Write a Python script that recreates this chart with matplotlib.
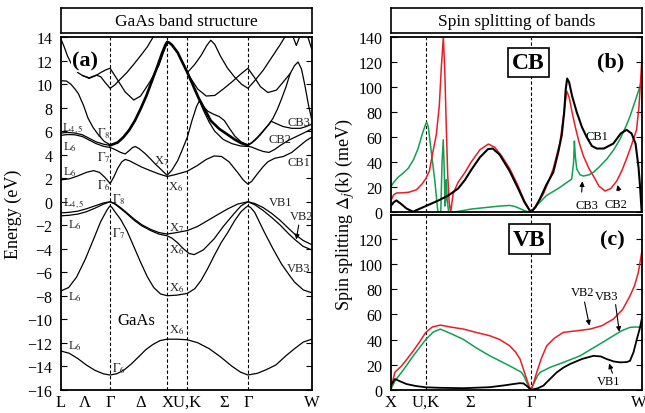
import matplotlib
matplotlib.use("Agg")
import matplotlib.pyplot as plt

plt.rcParams['font.family'] = ['Liberation Serif', 'DejaVu Serif']
plt.rcParams['mathtext.fontset'] = 'stix'

# high-symmetry points along the path (units of 2*pi/a)
path_pos = [0, 0.866, 1.866, 2.220, 3.281, 4.399]
path_lbl_pos = [0, 0.43, 0.866, 1.40, 2.12, 2.87, 3.281, 4.399]
path_lbl = ['L', 'Λ', 'Γ', 'Δ', 'XU,K', 'Σ', 'Γ', 'W']

# ---- band structure (k, E in eV) ----
band_s = [(0, -12.7), (0.15, -12.9), (0.3, -13.35), (0.45, -13.9), (0.6, -14.35), (0.75, -14.65),
          (0.866, -14.75), (0.99, -14.63), (1.116, -14.3), (1.24, -13.8), (1.366, -13.2), (1.49, -12.6),
          (1.616, -12.15), (1.74, -11.82), (1.866, -11.7), (2.04, -11.7), (2.22, -11.75), (2.4, -12.0),
          (2.6, -12.5), (2.8, -13.2), (3.0, -14.0), (3.15, -14.5), (3.281, -14.75), (3.45, -14.6),
          (3.6, -14.3), (3.77, -13.9), (3.95, -13.1), (4.1, -12.5), (4.25, -11.95), (4.399, -11.7)]
band_v3 = [(0, -7.6), (0.14, -7.3), (0.28, -6.4), (0.43, -4.9), (0.575, -3.2), (0.7, -1.7), (0.8, -0.8),
           (0.84, -0.5), (0.866, -0.35), (0.9, -0.5), (0.95, -0.85), (1.05, -1.5), (1.164, -2.5),
           (1.28, -3.8), (1.40, -5.15), (1.52, -6.4), (1.63, -7.3), (1.75, -7.85), (1.866, -8.0),
           (2.04, -7.95), (2.22, -7.8), (2.35, -7.4), (2.46, -6.7), (2.575, -5.7), (2.7, -4.5),
           (2.81, -3.5), (2.93, -2.6), (3.05, -1.6), (3.16, -0.85), (3.24, -0.5), (3.281, -0.35),
           (3.33, -0.5), (3.4, -0.9), (3.57, -2.6), (3.72, -4.0), (3.87, -5.3), (4.0, -6.2),
           (4.1, -6.85), (4.25, -7.5), (4.399, -7.75)]
band_v1 = [(0, -0.95), (0.15, -0.9), (0.3, -0.8), (0.45, -0.6), (0.6, -0.35), (0.75, -0.1), (0.866, 0),
           (0.95, -0.15), (1.05, -0.5), (1.15, -0.9), (1.28, -1.45), (1.42, -1.95), (1.575, -2.35),
           (1.72, -2.62), (1.866, -2.75), (2.0, -2.65), (2.22, -2.45), (2.4, -2.1), (2.575, -1.6),
           (2.75, -1.1), (2.93, -0.6), (3.1, -0.2), (3.281, 0), (3.4, -0.15), (3.55, -0.5),
           (3.7, -1.0), (3.85, -1.6), (4.0, -2.3), (4.1, -2.75), (4.25, -3.3), (4.399, -3.65)]
band_v2 = [(0, -1.2), (0.15, -1.15), (0.3, -1.05), (0.45, -0.85), (0.6, -0.55), (0.75, -0.2), (0.866, 0),
           (0.95, -0.2), (1.05, -0.58), (1.15, -0.98), (1.28, -1.55), (1.42, -2.05), (1.575, -2.45),
           (1.72, -2.75), (1.866, -2.9), (1.95, -3.1), (2.05, -3.5), (2.15, -4.0), (2.25, -4.4),
           (2.34, -4.5), (2.5, -4.1), (2.69, -3.15), (2.85, -2.1), (3.04, -1.0), (3.16, -0.35),
           (3.281, 0), (3.4, -0.25), (3.55, -0.75), (3.7, -1.35), (3.85, -2.0), (4.0, -2.75),
           (4.1, -3.2), (4.25, -3.8), (4.399, -4.1)]
band_c1 = [(0, 1.86), (0.15, 1.95), (0.3, 2.2), (0.45, 2.5), (0.575, 2.65), (0.68, 2.5), (0.78, 2.05),
           (0.866, 1.55), (0.93, 2.1), (1.0, 2.85), (1.07, 3.4), (1.13, 3.6), (1.2, 3.5), (1.3, 3.25),
           (1.42, 2.95), (1.57, 2.65), (1.72, 2.37), (1.866, 2.15), (2.0, 2.3), (2.22, 2.6), (2.4, 3.1),
           (2.55, 3.6), (2.69, 3.9), (2.82, 3.85), (2.95, 3.4), (3.1, 2.5), (3.2, 1.85), (3.281, 1.5),
           (3.35, 1.75), (3.45, 2.4), (3.55, 3.0), (3.63, 3.4), (3.75, 3.7), (3.9, 3.85), (4.05, 4.2),
           (4.2, 4.8), (4.3, 5.2), (4.399, 5.5)]
band_c2 = [(0.866, 4.62), (0.95, 4.45), (1.05, 4.2), (1.13, 4.07), (1.2, 4.35), (1.26, 4.62), (1.31, 4.7),
           (1.38, 4.5), (1.48, 4.1), (1.575, 3.64), (1.66, 3.2), (1.75, 2.79), (1.81, 2.5), (1.866, 2.25),
           (1.95, 2.7), (2.05, 3.5), (2.12, 4.3), (2.22, 5.5), (2.3, 6.9), (2.38, 8.1), (2.43, 8.6),
           (2.5, 8.1), (2.58, 7.7), (2.68, 7.45), (2.78, 7.25), (2.87, 6.9), (2.95, 6.3), (3.05, 5.6),
           (3.16, 5.1), (3.281, 4.8)]
band_c8 = [(0.866, 4.8), (1.0, 5.05), (1.1, 5.5), (1.2, 6.1), (1.3, 6.9), (1.4, 7.9), (1.5, 9.0),
           (1.6, 10.3), (1.7, 11.6), (1.78, 12.7), (1.84, 13.4), (1.866, 13.6), (1.9, 13.55),
           (1.95, 13.35), (2.05, 12.7), (2.13, 11.9), (2.22, 11.0), (2.32, 9.9), (2.42, 8.8),
           (2.52, 7.9), (2.63, 6.9), (2.78, 6.2), (2.93, 5.7), (3.05, 5.3), (3.16, 5.0), (3.281, 4.8)]
band_cc = [(2.42, 8.75), (2.5, 7.8), (2.6, 6.8), (2.7, 6.0), (2.85, 5.3), (3.0, 4.95), (3.15, 4.75),
           (3.281, 4.7)]
band_l10 = [(0, 10.3), (0.1, 10.28), (0.18, 10.0), (0.25, 9.6), (0.31, 9.2), (0.4, 8.2), (0.48, 7.1),
            (0.57, 6.3), (0.66, 5.7), (0.76, 5.15), (0.866, 4.85)]
band_la = [(0, 5.85), (0.12, 5.9), (0.25, 5.85), (0.38, 5.7), (0.5, 5.4), (0.62, 5.1), (0.75, 4.9),
           (0.866, 4.8)]
band_lb = [(0, 5.65), (0.12, 5.72), (0.25, 5.7), (0.38, 5.55), (0.5, 5.25), (0.62, 4.95), (0.75, 4.72),
           (0.866, 4.62)]
band_u1 = [(0, 13.9), (0.06, 13.2), (0.12, 12.4), (0.2, 11.6), (0.3, 11.0), (0.38, 10.75), (0.5, 10.5),
           (0.62, 10.75), (0.72, 11.05), (0.8, 11.25), (0.866, 11.36), (0.98, 10.5), (1.13, 9.35),
           (1.28, 8.66), (1.4, 9.0), (1.49, 9.66), (1.575, 10.3), (1.65, 11.0), (1.72, 11.6),
           (1.8, 12.7), (1.866, 13.5)]
band_u2 = [(0.38, 10.75), (0.5, 10.55), (0.62, 10.78), (0.7, 10.65), (0.78, 10.15), (0.866, 9.66),
           (0.95, 9.95), (1.047, 10.45), (1.16, 11.0), (1.28, 11.7), (1.4, 12.43), (1.52, 13.2),
           (1.63, 14.1)]
band_p = [(2.22, 11.0), (2.35, 11.7), (2.46, 12.45), (2.56, 13.3), (2.63, 13.75), (2.7, 13.4),
          (2.8, 12.4), (2.92, 11.4), (3.05, 10.6), (3.17, 10.0), (3.281, 9.66), (3.4, 10.3),
          (3.55, 11.2), (3.7, 12.3), (3.85, 13.4), (3.95, 14.2)]
band_q = [(2.22, 10.95), (2.4, 9.6), (2.55, 9.0), (2.7, 9.05), (2.85, 9.6), (3.0, 10.2), (3.15, 10.85),
          (3.281, 11.36), (3.4, 10.55), (3.5, 9.8), (3.63, 9.3), (3.78, 9.5), (3.9, 10.2), (4.02, 10.9),
          (4.1, 11.6), (4.16, 11.9), (4.22, 11.3), (4.28, 9.9), (4.34, 8.3), (4.399, 7.0)]
band_vtop = [(4.06, 14.2), (4.13, 13.3), (4.2, 14.2)]
band_wtop = [(4.32, 14.2), (4.36, 13.6), (4.399, 13.0)]
band_cb2 = [(3.281, 4.72), (3.35, 4.65), (3.45, 4.45), (3.55, 4.28), (3.65, 4.2), (3.75, 4.45),
            (3.85, 4.8), (4.0, 5.25), (4.15, 5.6), (4.3, 5.95), (4.399, 6.2)]
band_cb3 = [(3.281, 4.8), (3.35, 5.0), (3.42, 5.3), (3.5, 5.7), (3.6, 6.3), (3.69, 6.85), (3.78, 6.65),
            (3.9, 6.4), (4.05, 6.25), (4.2, 6.25), (4.3, 6.4), (4.399, 6.6)]
band_cb4 = [(3.281, 4.82), (3.35, 5.05), (3.45, 5.5), (3.55, 6.05), (3.65, 6.6), (3.72, 7.1), (3.8, 7.9),
            (3.87, 8.75), (3.95, 9.8), (4.02, 10.9)]

thin_bands = [band_s, band_v3, band_v1, band_v2, band_c1, band_c2, band_cc, band_l10, band_la,
              band_lb, band_u1, band_u2, band_p, band_q, band_vtop, band_wtop, band_cb2, band_cb3,
              band_cb4]

# ---- spin splitting (k along X-U,K-Gamma-W, meV) ----
split_pos = [0, 0.354, 1.414, 2.532]
split_lbl_pos = [0, 0.354, 0.80, 1.414, 2.50]
split_lbl = ['X', 'U,K', 'Σ', 'Γ', 'W']

cb1_split = [(0, 5), (0.03, 8), (0.057, 9.5), (0.1, 7), (0.16, 3), (0.225, 0.5), (0.354, 5), (0.477, 9.3),
             (0.578, 13.3), (0.68, 19), (0.75, 26), (0.813, 34), (0.9, 44), (0.982, 50.6), (1.03, 51),
             (1.1, 46), (1.2, 33), (1.28, 20), (1.35, 8), (1.414, 0), (1.46, 4), (1.507, 11), (1.57, 22),
             (1.64, 32), (1.69, 48), (1.726, 62), (1.75, 80), (1.765, 98), (1.78, 107), (1.8, 104),
             (1.83, 93), (1.877, 80), (1.93, 68), (1.978, 60), (2.03, 53), (2.08, 51), (2.15, 51),
             (2.246, 55), (2.32, 63), (2.38, 66), (2.43, 63), (2.47, 55), (2.5, 36), (2.516, 20),
             (2.532, 0)]
cb2_split = [(0, 9), (0.03, 14), (0.06, 15.5), (0.1, 15.5), (0.18, 16), (0.26, 18), (0.32, 23),
             (0.354, 27), (0.39, 33), (0.43, 50), (0.46, 62), (0.49, 85), (0.51, 115), (0.531, 140),
             (0.545, 115), (0.56, 70), (0.575, 30), (0.59, 8), (0.605, 0), (0.63, 15), (0.68, 24),
             (0.75, 32), (0.81, 40), (0.9, 50), (0.985, 54.6), (1.05, 52), (1.12, 45), (1.2, 35),
             (1.28, 22), (1.35, 9), (1.414, 0), (1.47, 6), (1.54, 14.6), (1.6, 26), (1.64, 35),
             (1.708, 56), (1.74, 75), (1.776, 97), (1.8, 92), (1.83, 80), (1.86, 69), (1.9, 56),
             (1.944, 45), (2.0, 35), (2.045, 29), (2.1, 21), (2.163, 17), (2.22, 19), (2.28, 25),
             (2.33, 33), (2.38, 43), (2.43, 54), (2.48, 66), (2.505, 85), (2.532, 120)]
cb3_split = [(0, 20), (0.03, 24), (0.074, 28), (0.12, 31), (0.175, 35), (0.23, 42), (0.276, 51),
             (0.32, 63), (0.35, 70), (0.363, 72), (0.38, 68), (0.41, 48), (0.444, 26), (0.47, 5),
             (0.477, 0), (0.505, 0), (0.518, 40), (0.53, 58), (0.538, 40), (0.548, 5), (0.555, 10),
             (0.561, 26), (0.57, 10), (0.585, 0), (0.62, 0), (0.7, 1), (0.813, 2.6), (0.982, 4),
             (1.1, 5), (1.2, 5.5), (1.26, 4.5), (1.33, 2), (1.38, 0.5), (1.414, 0), (1.47, 5.3),
             (1.57, 13.3), (1.708, 20), (1.826, 26.6), (1.845, 40), (1.853, 57), (1.862, 45),
             (1.877, 34.6), (1.91, 30), (1.944, 29), (2.0, 30), (2.045, 32), (2.1, 36), (2.18, 42.6),
             (2.25, 50), (2.314, 58.6), (2.38, 70), (2.415, 77), (2.47, 90), (2.532, 105)]

vb1_split = [(0, 3.2), (0.043, 8.5), (0.1, 6.5), (0.16, 4.5), (0.25, 3), (0.354, 1.9), (0.5, 1.5),
             (0.735, 1.2), (1.0, 2), (1.15, 3.5), (1.237, 4.5), (1.3, 5.2), (1.34, 5), (1.38, 2.5),
             (1.414, 0), (1.48, 1), (1.54, 3.2), (1.6, 8), (1.675, 13.8), (1.74, 17.5), (1.81, 20.5),
             (1.93, 24.5), (2.045, 27), (2.12, 26.5), (2.18, 24.4), (2.25, 22.5), (2.314, 21.8),
             (2.38, 22), (2.414, 23), (2.45, 30), (2.482, 40), (2.51, 48), (2.532, 56)]
vb2_split = [(0, 0.5), (0.043, 14), (0.11, 19), (0.17, 25), (0.228, 31), (0.29, 38), (0.354, 45.7),
             (0.42, 50), (0.5, 51.5), (0.6, 50), (0.735, 48.3), (0.87, 45.5), (1.0, 43), (1.1, 40),
             (1.2, 35), (1.26, 30), (1.305, 24.4), (1.34, 16), (1.372, 8.5), (1.395, 3), (1.414, 0),
             (1.44, 5), (1.473, 13.8), (1.52, 25), (1.574, 35), (1.65, 41), (1.742, 45.7), (1.88, 47),
             (2.01, 48.3), (2.13, 51), (2.246, 56.3), (2.34, 64), (2.414, 74.8), (2.46, 83),
             (2.498, 93.5), (2.532, 109.4)]
vb3_split = [(0, 0), (0.043, 7), (0.13, 16), (0.228, 27), (0.354, 40), (0.43, 46), (0.5, 48.3), (0.6, 45),
             (0.735, 40), (0.87, 33), (1.0, 27), (1.1, 23), (1.2, 19), (1.27, 16), (1.32, 13.8),
             (1.35, 10), (1.372, 5.9), (1.395, 2), (1.414, 0), (1.45, 6), (1.48, 11), (1.507, 13.8),
             (1.607, 17.8), (1.75, 22), (1.91, 27), (2.08, 35), (2.246, 43), (2.33, 47), (2.414, 49.7),
             (2.47, 50), (2.532, 49.7)]

RED = '#ec1c24'
GREEN = '#10a050'


def xy(pts):
    return [p[0] for p in pts], [p[1] for p in pts]


W, H = 645, 414
fig = plt.figure(figsize=(6.45, 4.14), dpi=100)
axL = fig.add_axes([60.7 / W, 1 - 390.7 / H, 251 / W, 352.4 / H])
axT = fig.add_axes([390.7 / W, 1 - 213.3 / H, 251 / W, 175 / H])
axB = fig.add_axes([390.7 / W, 1 - 390.7 / H, 251 / W, 175 / H])

for ax in (axL, axT, axB):
    for sp in ax.spines.values():
        sp.set_linewidth(1.3)
    ax.tick_params(axis='y', direction='in', left=True, right=True, length=4, width=0.8,
                   labelsize=11.5, pad=6)
    ax.tick_params(axis='x', length=0, labelsize=12, pad=3)

# left panel: band structure
for b in thin_bands:
    axL.plot(*xy(b), color='k', lw=0.9)
axL.plot(*xy(band_c8), color='k', lw=1.9)
for x in path_pos[1:-1]:
    axL.axvline(x, color='k', ls=(0, (3, 2)), lw=0.8)
axL.set_xlim(0, 4.399)
axL.set_ylim(-16, 14)
axL.set_yticks(range(-16, 15, 2))
axL.set_xticks(path_lbl_pos)
axL.set_xticklabels(path_lbl)
axL.set_ylabel('Energy (eV)', fontsize=13, labelpad=4)

lab = dict(fontsize=9, color='#222222')
lbls = [(0.03, 6.35, r'L$_{4,5}$'), (0.64, 5.9, r'$\Gamma_8$'), (0.04, 4.75, r'L$_6$'),
        (0.64, 3.85, r'$\Gamma_7$'), (1.63, 3.55, r'X$_7$'), (0.04, 2.6, r'L$_6$'),
        (0.64, 1.45, r'$\Gamma_6$'), (1.88, 1.35, r'X$_6$'), (0.9, 0.3, r'$\Gamma_8$'),
        (0.04, -0.05, r'L$_{4,5}$'), (0.12, -1.9, r'L$_6$'), (0.9, -2.6, r'$\Gamma_7$'),
        (1.9, -2.2, r'X$_7$'), (1.9, -4.0, r'X$_6$'), (0.12, -8.0, r'L$_6$'), (1.9, -7.3, r'X$_6$'),
        (1.9, -10.8, r'X$_6$'), (0.12, -12.2, r'L$_6$'), (0.9, -14.1, r'$\Gamma_6$'),
        (3.65, 0.0, 'VB1'), (4.02, -1.2, 'VB2'), (3.97, -5.6, 'VB3'),
        (3.97, 3.4, 'CB1'), (3.65, 5.35, 'CB2'), (3.97, 6.75, 'CB3')]
for x, y, t in lbls:
    axL.text(x, y, t, va='center', ha='left', **lab)
axL.annotate('', xy=(4.12, -3.45), xytext=(4.18, -1.75),
             arrowprops=dict(arrowstyle='-|>', lw=0.8, color='k', mutation_scale=7))
axL.text(1.32, -10.1, 'GaAs', fontsize=12, ha='center', va='center')
axL.text(0.43, 12.0, '(a)', fontsize=16, fontweight='bold', ha='center', va='center',
         bbox=dict(facecolor='white', edgecolor='none', pad=1))

# right panels: spin splitting
for ax in (axT, axB):
    for x in split_pos[1:-1]:
        ax.axvline(x, color='k', ls=(0, (3, 2)), lw=0.8)
    ax.set_xlim(0, 2.532)
    ax.set_ylim(0, 140)

axT.plot(*xy(cb3_split), color=GREEN, lw=1.1)
axT.plot(*xy(cb2_split), color=RED, lw=1.1)
axT.plot(*xy(cb1_split), color='k', lw=1.5)
axT.set_yticks(range(0, 141, 20))
axT.set_xticks([])

axB.plot(*xy(vb3_split), color=GREEN, lw=1.1)
axB.plot(*xy(vb2_split), color=RED, lw=1.1)
axB.plot(*xy(vb1_split), color='k', lw=1.3)
axB.set_ylim(0, 139.5)
axB.set_yticks(range(0, 121, 20))
axB.set_xticks(split_lbl_pos)
axB.set_xticklabels(split_lbl)

box = dict(facecolor='white', edgecolor='k', lw=1.2, pad=3)
axT.text(1.39, 120, 'CB', fontsize=17, fontweight='bold', ha='center', va='center', bbox=box)
axB.text(1.40, 120, 'VB', fontsize=17, fontweight='bold', ha='center', va='center', bbox=box)
axT.text(2.22, 121, '(b)', fontsize=16, fontweight='bold', ha='center', va='center')
axB.text(2.24, 120, '(c)', fontsize=16, fontweight='bold', ha='center', va='center')

arrow = dict(arrowstyle='-|>', lw=0.8, color='k', mutation_scale=7)
axT.text(2.08, 61, 'CB1', fontsize=9, ha='center', va='center')
axT.text(1.98, 6, 'CB3', fontsize=9, ha='center', va='center')
axT.text(2.27, 7, 'CB2', fontsize=9, ha='center', va='center')
axT.annotate('', xy=(1.935, 27), xytext=(1.925, 14), arrowprops=arrow)
axT.annotate('', xy=(2.28, 24), xytext=(2.31, 15), arrowprops=arrow)

axB.text(1.94, 77.5, 'VB2', fontsize=9, ha='center', va='center')
axB.text(2.18, 75, 'VB3', fontsize=9, ha='center', va='center')
axB.text(2.2, 7, 'VB1', fontsize=9, ha='center', va='center')
axB.annotate('', xy=(2.01, 49), xytext=(1.95, 72), arrowprops=arrow)
axB.annotate('', xy=(2.31, 44), xytext=(2.265, 70), arrowprops=arrow)
axB.annotate('', xy=(2.195, 23), xytext=(2.245, 11), arrowprops=arrow)

fig.text(345 / W, 1 - 215 / H, r'Spin splitting $\Delta_j$(k) (meV)', rotation=90,
         ha='center', va='center', fontsize=13)

# title boxes
for x0, title in ((60.7, 'GaAs band structure'), (390.7, 'Spin splitting of bands')):
    tax = fig.add_axes([x0 / W, 1 - 34 / H, 251 / W, 25 / H])
    tax.set_xticks([])
    tax.set_yticks([])
    for sp in tax.spines.values():
        sp.set_linewidth(1.2)
    tax.text(0.5, 0.5, title, ha='center', va='center', fontsize=12.5, transform=tax.transAxes)

fig.savefig('out.png', dpi=100)
